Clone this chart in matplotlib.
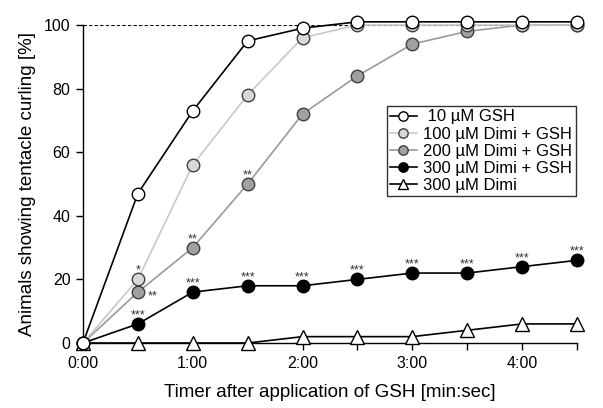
import numpy as np
import matplotlib
matplotlib.use('Agg')
import matplotlib.pyplot as plt

plt.rcParams['font.family'] = ['Liberation Sans', 'DejaVu Sans']

# time points in minutes
times = [0, 0.5, 1, 1.5, 2, 2.5, 3, 3.5, 4, 4.5]
gsh10 = [0, 47, 73, 95, 99, 101, 101, 101, 101, 101]
dimi100 = [0, 20, 56, 78, 96, 100, 100, 100, 100, 100]
dimi200 = [0, 16, 30, 50, 72, 84, 94, 98, 100, 100]
dimi300 = [0, 6, 16, 18, 18, 20, 22, 22, 24, 26]
dimi300_only = [0, 0, 0, 0, 2, 2, 2, 4, 6, 6]

labels = [' 10 \u00b5M GSH', '100 \u00b5M Dimi + GSH', '200 \u00b5M Dimi + GSH',
          '300 \u00b5M Dimi + GSH', '300 \u00b5M Dimi']
xtick_labels = ['0:00', '', '1:00', '', '2:00', '', '3:00', '', '4:00', '']

# significance marks
stars_300 = ['', '***', '***', '***', '***', '***', '***', '***', '***', '***']
stars_200 = ['', '', '**', '**', '', '', '', '', '', '']
stars_100 = ['', '*', '', '', '', '', '', '', '', '']

fig = plt.figure(figsize=(6.03, 4.08), dpi=100)
ax = fig.add_axes([0.1376, 0.1593, 0.8192, 0.7794])

ax.axhline(100, color='black', lw=0.8, ls=(0, (3, 2)), zorder=1)

ms = 9
ax.plot(times, dimi300_only, '-^', color='black', mfc='white', mec='black',
        ms=9.5, lw=1.2, clip_on=False, zorder=3, label=labels[4])
ax.plot(times, dimi300, '-o', color='black', mfc='black', mec='black',
        ms=ms, lw=1.2, clip_on=False, zorder=4, label=labels[3])
ax.plot(times, dimi200, '-o', color='#9a9a9a', mfc='#a0a0a0', mec='#404040',
        ms=ms, lw=1.2, clip_on=False, zorder=5, label=labels[2])
ax.plot(times, dimi100, '-o', color='#c8c8c8', mfc='#d8d8d8', mec='#404040',
        ms=ms, lw=1.2, clip_on=False, zorder=6, label=labels[1])
ax.plot(times, gsh10, '-o', color='black', mfc='white', mec='black',
        ms=ms, lw=1.2, clip_on=False, zorder=7, label=labels[0])

# significance stars above the markers
star_kw = dict(textcoords='offset points', ha='center', va='baseline',
               fontsize=9, color='#333333')
for series, marks in [(dimi300, stars_300), (dimi200, stars_200), (dimi100, stars_100)]:
    for t, v, s in zip(times, series, marks):
        if s:
            ax.annotate(s, (t, v), xytext=(0, 4), **star_kw)
# the '**' for 200 uM at 0:30 sits to the right of the marker
ax.annotate('**', (times[1], dimi200[1]), xytext=(7, -5), textcoords='offset points',
            ha='left', va='baseline', fontsize=9, color='#333333')

ax.set_xlim(0, 4.5)
ax.set_ylim(0, 100)
ax.set_xticks(times)
ax.set_xticklabels(xtick_labels)
ax.set_yticks([0, 20, 40, 60, 80, 100])
ax.spines['top'].set_visible(False)
ax.spines['right'].set_visible(False)
for sp in ['left', 'bottom']:
    ax.spines[sp].set_linewidth(1.0)
ax.tick_params(direction='out', length=5, width=1.0, labelsize=11.5, pad=4)

ax.set_xlabel('Timer after application of GSH [min:sec]', fontsize=13.5, labelpad=10)
ax.set_ylabel('Animals showing tentacle curling [%]', fontsize=13.5, labelpad=6)

handles, labs = ax.get_legend_handles_labels()
leg = ax.legend(handles[::-1], labs[::-1], loc='upper left', bbox_to_anchor=(0.615, 0.745),
                fontsize=12, frameon=True, fancybox=False, handlelength=1.6,
                handletextpad=0.4, borderpad=0.2, labelspacing=0.13, markerscale=0.75,
                borderaxespad=0)
leg.get_frame().set_edgecolor('black')
leg.get_frame().set_linewidth(1.0)

fig.savefig('out.png', dpi=100)
